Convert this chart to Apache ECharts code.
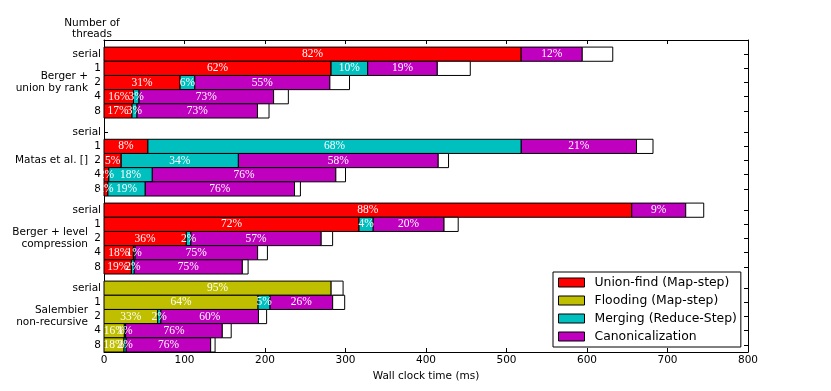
<!DOCTYPE html>
<html>
<head>
<meta charset="utf-8">
<title>Wall clock time per phase</title>
<script src="https://cdn.jsdelivr.net/npm/echarts@6/dist/echarts.min.js"></script>
<style>
  html, body { margin: 0; padding: 0; background: #fff; }
  #chart { width: 831px; height: 391px; }
</style>
</head>
<body>
<div id="chart"></div>
<script>
// algorithms (groups) and thread counts (rows within a group)
const groups = ['Berger +\nunion by rank', 'Matas et al. []', 'Berger + level\ncompression', 'Salembier\nnon-recursive']
const threads = ['serial', '1', '2', '4', '8']

// total wall clock time per row (ms), null = no run
const totals = [
  632, 455, 305, 229, 205,
  null, 682, 428, 300, 244,
  745, 440, 284, 203, 179,
  297, 299, 202, 158, 138
]

// share of each phase in the total (%), as printed on the bars
const unionFindPct = [82, 62, 31, 16, 17, 0, 8, 5, 2, 2, 88, 72, 36, 18, 19, 0, 0, 0, 0, 0]
const floodingPct = [0, 0, 0, 0, 0, 0, 0, 0, 0, 0, 0, 0, 0, 0, 0, 95, 64, 33, 16, 18]
const mergingPct = [0, 10, 6, 3, 3, 0, 68, 34, 18, 19, 0, 4, 2, 1, 2, 0, 5, 2, 1, 2]
const canonPct = [12, 19, 55, 73, 73, 0, 21, 58, 76, 76, 9, 20, 57, 75, 75, 0, 26, 60, 76, 76]

const phaseNames = ['Union-find (Map-step)', 'Flooding (Map-step)', 'Merging (Reduce-Step)', 'Canonicalization']
const phaseColors = ['#ff0000', '#bfbf00', '#00bfbf', '#bf00bf']
const phasePct = [unionFindPct, floodingPct, mergingPct, canonPct]

// y position of every row: groups separated by half a row
const rowPos = []
const rowLabel = {}
groups.forEach((g, gi) => {
  threads.forEach((t, ti) => {
    const y = gi * 5.5 + ti
    rowPos.push(y)
    rowLabel[y] = t
  })
})
const groupPos = groups.map((g, gi) => gi * 5.5 + 2)

// build [start, end, y, pct] segments for each phase
const cum = totals.map(() => 0)
const phaseData = phasePct.map(pcts => {
  const data = []
  pcts.forEach((p, i) => {
    if (totals[i] == null || !p) return
    const start = totals[i] * cum[i] / 100
    cum[i] += p
    data.push([start, totals[i] * cum[i] / 100, rowPos[i], p])
  })
  return data
})
const restData = []
totals.forEach((t, i) => {
  if (t == null) return
  restData.push([t * cum[i] / 100, t, rowPos[i], 0])
})

function renderSeg(color, withLabel) {
  return function (params, api) {
    const p0 = api.coord([api.value(0), api.value(2)])
    const p1 = api.coord([api.value(1), api.value(2)])
    const h = api.size([0, 1])[1]
    const el = {
      type: 'rect',
      shape: { x: p0[0], y: p0[1] - h / 2, width: p1[0] - p0[0], height: h },
      style: { fill: color, stroke: '#000', lineWidth: 1 }
    }
    if (withLabel) {
      el.textContent = {
        style: {
          text: api.value(3) + '%',
          fill: '#fff',
          stroke: 'none',
          lineWidth: 0,
          fontSize: 11.5,
          fontFamily: 'Liberation Serif'
        }
      }
      el.textConfig = { position: 'inside', insideFill: '#fff', insideStroke: 'rgba(0,0,0,0)' }
    }
    return el
  }
}

const series = phaseNames.map((name, k) => ({
  name: name,
  type: 'custom',
  itemStyle: { color: phaseColors[k] },
  encode: { x: [0, 1], y: 2 },
  renderItem: renderSeg(phaseColors[k], true),
  data: phaseData[k]
}))
series.push({
  name: 'rest',
  type: 'custom',
  itemStyle: { color: '#fff' },
  encode: { x: [0, 1], y: 2 },
  renderItem: renderSeg('#fff', false),
  data: restData
})

const font = 'DejaVu Sans'
const lineStyle = { color: '#000', width: 1 }

const chart = echarts.init(document.getElementById('chart'))
chart.setOption({
  animation: false,
  textStyle: { fontFamily: font },
  grid: { left: 104, right: 83, top: 40, bottom: 39 },
  graphic: [{
    type: 'text',
    x: 92,
    y: 29,
    style: {
      text: 'Number of\nthreads',
      textAlign: 'center',
      textVerticalAlign: 'middle',
      font: '10.5px "DejaVu Sans"',
      lineHeight: 11,
      fill: '#000'
    }
  }],
  legend: {
    data: phaseNames,
    orient: 'vertical',
    left: 553,
    top: 272,
    padding: [3, 4, 3, 5],
    itemGap: 3,
    itemWidth: 26,
    itemHeight: 9,
    icon: 'rect',
    itemStyle: { borderColor: '#000', borderWidth: 1 },
    backgroundColor: '#fff',
    borderColor: '#000',
    borderWidth: 1,
    borderRadius: 0,
    selectedMode: false,
    textStyle: { fontSize: 12.4, fontFamily: font, color: '#000', lineHeight: 15, padding: [0, 0, 0, 5] }
  },
  xAxis: [{
    type: 'value',
    position: 'bottom',
    min: 0,
    max: 800,
    interval: 100,
    name: 'Wall clock time (ms)',
    nameLocation: 'middle',
    nameGap: 14,
    nameTextStyle: { fontSize: 10.5, color: '#000' },
    axisLine: { onZero: false, lineStyle: lineStyle },
    axisTick: { inside: true, length: 4, lineStyle: lineStyle },
    axisLabel: { fontSize: 10.5, color: '#000', margin: 3 },
    splitLine: { show: false }
  }, {
    type: 'value',
    position: 'top',
    min: 0,
    max: 800,
    interval: 100,
    axisLine: { onZero: false, lineStyle: lineStyle },
    axisTick: { inside: true, length: 4, lineStyle: lineStyle },
    axisLabel: { show: false },
    splitLine: { show: false }
  }],
  yAxis: [{
    type: 'value',
    position: 'left',
    inverse: true,
    min: -1,
    max: 21,
    axisLine: { onZero: false, lineStyle: lineStyle },
    axisTick: { inside: true, length: 4, lineStyle: lineStyle, customValues: rowPos },
    axisLabel: {
      customValues: rowPos,
      fontSize: 10.5,
      color: '#000',
      margin: 3,
      formatter: v => rowLabel[v] || ''
    },
    splitLine: { show: false }
  }, {
    type: 'value',
    position: 'right',
    inverse: true,
    min: -1,
    max: 21,
    axisLine: { onZero: false, lineStyle: lineStyle },
    axisTick: { inside: true, length: 4, lineStyle: lineStyle, customValues: rowPos },
    axisLabel: { show: false },
    splitLine: { show: false }
  }, {
    type: 'value',
    position: 'left',
    inverse: true,
    min: -1,
    max: 21,
    axisLine: { show: false, onZero: false },
    axisTick: { show: false },
    axisLabel: {
      customValues: groupPos,
      fontSize: 10.5,
      color: '#000',
      margin: 16,
      lineHeight: 12,
      align: 'right',
      formatter: v => groups[groupPos.indexOf(v)] || ''
    },
    splitLine: { show: false }
  }],
  series: series
})
</script>
</body>
</html>
